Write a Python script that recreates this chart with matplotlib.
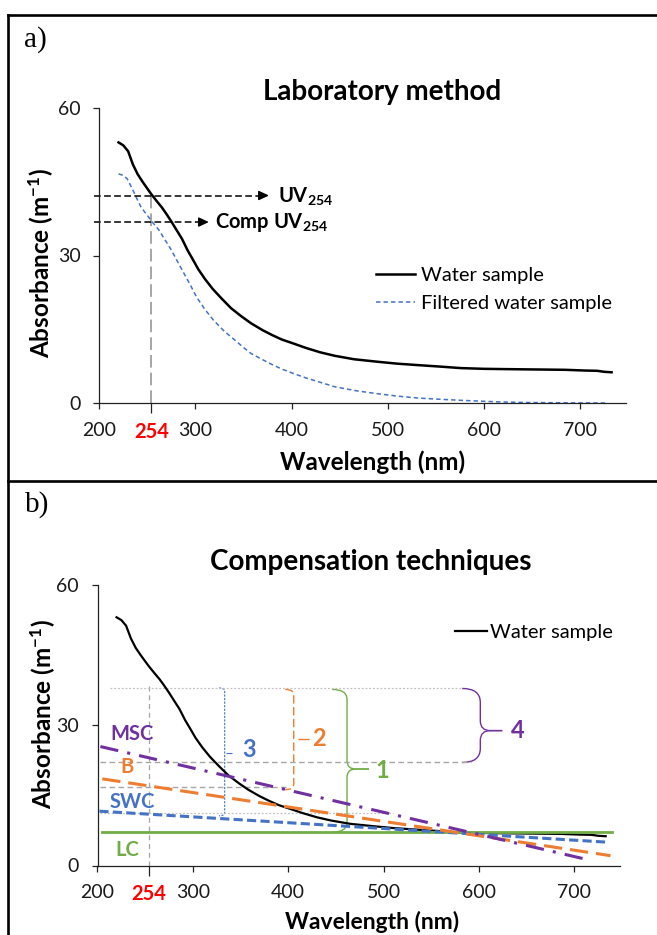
import numpy as np
import matplotlib
matplotlib.use("Agg")
import matplotlib.pyplot as plt
from matplotlib.path import Path
from matplotlib.patches import PathPatch
from matplotlib.lines import Line2D

plt.rcParams['font.family'] = ['Lato', 'DejaVu Sans']
plt.rcParams['mathtext.fontset'] = 'custom'
plt.rcParams['mathtext.rm'] = 'Lato'
plt.rcParams['mathtext.bf'] = 'Lato:bold'
plt.rcParams['mathtext.it'] = 'Lato:italic'

# ---- spectra (absorbance, m^-1) ----
wl_water = [220, 225, 230, 235, 240, 245, 250, 254, 260, 265, 270, 275, 280,
            286, 292, 297, 303, 310, 318, 327, 337, 348, 358, 370, 380, 390,
            402, 415, 430, 445, 465, 489, 510, 532, 555, 576, 600, 619, 640,
            663, 685, 706, 718, 725, 733]
abs_water = [53.0, 52.4, 51.2, 48.5, 46.5, 45.0, 43.6, 42.5, 41.0, 39.8, 38.4,
             36.9, 35.3, 33.4, 31.0, 29.3, 27.2, 25.2, 23.2, 21.3, 19.3, 17.6,
             16.2, 14.8, 13.8, 12.9, 12.1, 11.2, 10.3, 9.6, 8.9, 8.4, 8.0, 7.7,
             7.4, 7.1, 6.95, 6.9, 6.85, 6.8, 6.75, 6.6, 6.55, 6.35, 6.25]

wl_filtered = [220, 225, 229, 234, 239, 243, 247, 251, 256, 262, 268, 275, 281,
               288, 295, 301, 310, 319, 330, 341, 350, 358, 370, 380, 390, 402,
               415, 425, 435, 445, 467, 489, 510, 532, 555, 576, 600, 619, 640,
               663, 690, 728]
abs_filtered = [46.6, 46.3, 45.6, 43.7, 41.6, 40.0, 38.9, 37.9, 36.6, 35.2,
                33.3, 31.1, 28.9, 26.4, 23.9, 21.6, 19.0, 16.8, 14.6, 12.8,
                11.3, 10.05, 8.8, 7.8, 6.9, 6.0, 5.1, 4.5, 3.9, 3.3, 2.5, 1.9,
                1.4, 1.0, 0.75, 0.55, 0.35, 0.2, 0.12, 0.07, 0.03, 0.0]

# UV254 readings shown with arrows
uv254 = 42.2
comp_uv254 = 36.8

# ---- compensation baselines (straight lines between two wavelengths) ----
comp_names = ['LC', 'SWC', 'B', 'MSC']
comp_wl_start = [205, 202, 205, 203]
comp_wl_end = [740, 733, 738, 713]
comp_abs_start = [7.1, 11.6, 18.5, 25.4]
comp_abs_end = [7.1, 5.0, 2.1, 1.3]

# reference levels at 254 nm
ref_top = 37.9
ref_msc = 22.2
ref_b = 16.7
ref_swc = 11.2

x_ticks = [200, 254, 300, 400, 500, 600, 700]
x_ticklabels = ['200', '254', '300', '400', '500', '600', '700']
y_ticks = [0, 30, 60]

PURPLE = '#7030A0'
ORANGE = '#ED7D31'
BLUE = '#4472C4'
GREEN = '#70AD47'
GRAY = '#A6A6A6'
LGRAY = '#C0C0C0'

W, H = 657, 935
fig = plt.figure(figsize=(W / 100, H / 100), dpi=100)


def px_axes(left, right, bottom, top):
    return fig.add_axes([left / W, 1 - bottom / H, (right - left) / W,
                         (bottom - top) / H])


def style_axes(ax, xlabel_size):
    ax.set_xlim(200, 748)
    ax.set_ylim(0, 60)
    for s in ('top', 'right'):
        ax.spines[s].set_visible(False)
    for s in ('left', 'bottom'):
        ax.spines[s].set_linewidth(0.9)
        ax.spines[s].set_color('#222222')
    ax.set_xticks(x_ticks)
    ax.set_xticklabels(x_ticklabels)
    ax.set_yticks(y_ticks)
    ax.tick_params(direction='out', length=4.5, width=0.9, color='#222222',
                   labelsize=14, pad=9, labelcolor='#1a1a1a')
    t254 = ax.xaxis.get_major_ticks()[1]
    t254.tick1line.set_markersize(7.5)
    lab = ax.get_xticklabels()[1]
    lab.set_color('#FF0000')
    lab.set_fontweight('bold')
    lab.set_fontsize(14.5)
    ax.set_xlabel('Wavelength (nm)', fontsize=xlabel_size, fontweight='bold')
    ax.set_ylabel(r'Absorbance (m$^{\mathbf{-1}}$)', fontsize=17.5,
                  fontweight='bold')


def brace(ax, x, ytop, ybot, ymid, w, r, rh, rm, tip, color, lw=1.0):
    upper = [(x + tip, ymid), (x + rh, ymid), (x, ymid), (x, ymid + rm),
             (x, ytop - r), (x, ytop), (x - w, ytop)]
    lower = [(x + tip, ymid), (x + rh, ymid), (x, ymid), (x, ymid - rm),
             (x, ybot + r), (x, ybot), (x - w, ybot)]
    codes = [Path.MOVETO, Path.LINETO, Path.CURVE3, Path.CURVE3, Path.LINETO,
             Path.CURVE3, Path.CURVE3]
    for pts in (upper, lower):
        ax.add_patch(PathPatch(Path(pts, codes), fill=False, ec=color, lw=lw,
                               capstyle='butt'))


def bracket(ax, x, ytop, ybot, ymid, w, r, gap, tick, color, lw, dashes):
    pts = [(x - w, ytop), (x, ytop), (x, ytop - r), (x, ybot + r), (x, ybot),
           (x - w, ybot)]
    codes = [Path.MOVETO, Path.CURVE3, Path.CURVE3, Path.LINETO, Path.CURVE3,
             Path.CURVE3]
    p = PathPatch(Path(pts, codes), fill=False, ec=color, lw=lw)
    p.set_linestyle((0, dashes))
    ax.add_patch(p)
    ax.plot([x + gap, x + gap + tick], [ymid, ymid], color=color, lw=lw,
            solid_capstyle='butt')


# ================= panel a =================
axa = px_axes(99.3, 626, 403, 108)
style_axes(axa, 17.5)
axa.xaxis.set_label_coords(0.5186, -0.162)
axa.yaxis.set_label_coords(-0.084, 0.4746)
axa.text(0.5366, 1.054, 'Laboratory method', transform=axa.transAxes,
         ha='center', va='center', fontsize=20, fontweight='bold')

axa.plot([254, 254], [0, uv254], color=GRAY, lw=1.4, dashes=(6.5, 2.6))
axa.plot(wl_water, abs_water, color='black', lw=1.8, label='Water sample',
         solid_joinstyle='round')
axa.plot(wl_filtered, abs_filtered, color=BLUE, lw=1.1, dashes=(2.9, 2.0),
         label='Filtered water sample')

for level, x_end, txt, x_txt in ((uv254, 376.5, r'UV$_{\mathbf{254}}$', 386),
                                 (comp_uv254, 314,
                                  r'Comp UV$_{\mathbf{254}}$', 320.5)):
    axa.plot([195, x_end - 6], [level, level], color='black', lw=1.1,
             dashes=(4.4, 2.2), clip_on=False)
    axa.annotate('', xy=(x_end, level), xytext=(x_end - 7, level),
                 arrowprops=dict(arrowstyle='-|>,head_length=0.6,head_width=0.28',
                                 color='black', lw=1.1, shrinkA=0, shrinkB=0))
    axa.text(x_txt, level, txt, ha='left', va='center', fontsize=14.5,
             fontweight='bold')

axa.legend(loc='center left', bbox_to_anchor=(0.525, 0.3847), frameon=False,
           fontsize=14.5, handlelength=1.95, handletextpad=0.3, borderpad=0,
           borderaxespad=0, labelspacing=0.5)

# ================= panel b =================
axb = px_axes(97.5, 620, 865.5, 584.5)
style_axes(axb, 16.5)
axb.xaxis.set_label_coords(0.5264, -0.162)
axb.yaxis.set_label_coords(-0.078, 0.539)
axb.text(0.5237, 1.080, 'Compensation techniques', transform=axb.transAxes,
         ha='center', va='center', fontsize=20, fontweight='bold')

# guide lines
axb.plot([254, 254], [0, ref_top + 0.8], color=GRAY, lw=0.9, dashes=(4, 3))
axb.plot([213, 582], [ref_top, ref_top], color=LGRAY, lw=0.9, dashes=(1.5, 1.5))
axb.plot([203, 592], [ref_msc, ref_msc], color=GRAY, lw=1.0, dashes=(4, 2.5))
axb.plot([203, 401], [ref_b, ref_b], color=GRAY, lw=1.0, dashes=(4, 2.5))
axb.plot([203, 510], [ref_swc, ref_swc], color=LGRAY, lw=0.9, dashes=(1.5, 1.5))

axb.plot(wl_water, abs_water, color='black', lw=1.6, label='Water sample',
         solid_joinstyle='round', zorder=3)
water_b = axb.get_lines()[-1]

comp_colors = [GREEN, BLUE, ORANGE, PURPLE]
comp_lw = [2.0, 2.2, 2.2, 2.2]
comp_dashes = [None, (3.0, 1.4), (6.0, 2.6), (6.0, 3.0, 1.0, 3.0)]
for i in range(len(comp_names)):
    kw = dict(color=comp_colors[i], lw=comp_lw[i], zorder=4)
    if comp_dashes[i] is not None:
        kw['dashes'] = comp_dashes[i]
    axb.plot([comp_wl_start[i], comp_wl_end[i]],
             [comp_abs_start[i], comp_abs_end[i]], **kw)

label_pos = {'MSC': (235.7, 28.1), 'B': (230.7, 21.0), 'SWC': (236, 13.6),
             'LC': (231, 3.3)}
for i, name in enumerate(comp_names):
    x, y = label_pos[name]
    axb.text(x, y, name, color=comp_colors[i], fontsize=14.5,
             fontweight='bold', ha='center', va='center')

# brackets and braces for the four compensation offsets
bracket(axb, 333.4, ref_top, 10.6, 24.0, 6, 0.6, 1.8, 6, BLUE, 0.8, (2, 1.2))
bracket(axb, 405.8, 37.6, 16.2, 27.0, 9, 1.2, 4, 11.5, ORANGE, 1.0, (6, 2.5))
brace(axb, 461.7, 37.6, 7.1, 20.6, 15.5, 2.2, 9, 1.8, 23, GREEN, 1.0)
brace(axb, 601.5, 37.8, 22.0, 28.8, 19, 3.0, 10.5, 2.1, 23, PURPLE, 1.0)

for txt, (x, y), c in (('1', (498.5, 20.2), GREEN), ('2', (432.4, 27.2), ORANGE),
                       ('3', (359, 24.8), BLUE), ('4', (641, 28.9), PURPLE)):
    axb.text(x, y, txt, color=c, fontsize=17, fontweight='bold', ha='center',
             va='center')

axb.legend(handles=[water_b], loc='center left',
           bbox_to_anchor=(0.6846, 0.829), frameon=False, fontsize=14.5,
           handlelength=1.6, handletextpad=0.15, borderpad=0, borderaxespad=0)

# ---- outer frame and panel letters ----
for xs, ys in (((7.8 / W, 1), (1 - 15.3 / H, 1 - 15.3 / H)),
               ((7.8 / W, 1), (1 - 480.8 / H, 1 - 480.8 / H)),
               ((7.8 / W, 7.8 / W), (1 - 15.3 / H, 0))):
    fig.add_artist(Line2D(xs, ys, transform=fig.transFigure, color='black',
                          lw=1.9, solid_capstyle='projecting'))

fig.text(24 / W, 1 - 46.5 / H, 'a)', family=['Liberation Serif'], fontsize=21,
         va='baseline', ha='left')
fig.text(25 / W, 1 - 511.7 / H, 'b)', family=['Liberation Serif'], fontsize=21,
         va='baseline', ha='left')

fig.savefig('out.png', dpi=100)
